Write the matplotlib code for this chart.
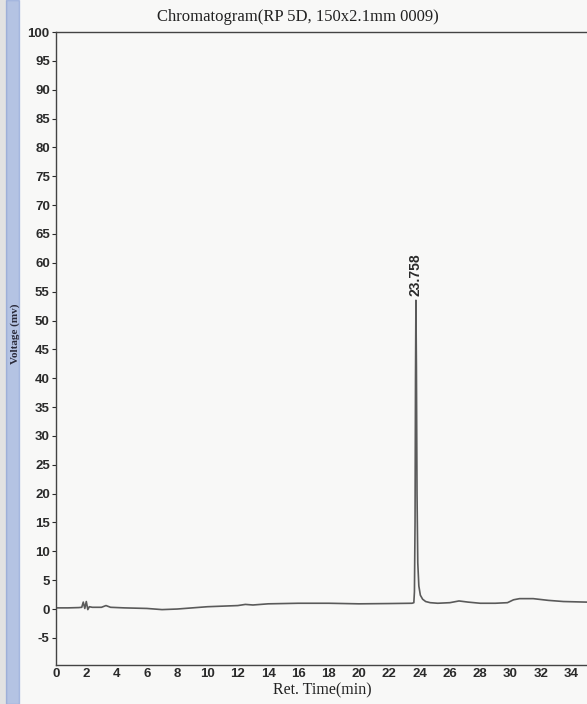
import numpy as np
import matplotlib.pyplot as plt
from matplotlib.patches import Rectangle

plt.rcParams['axes.unicode_minus'] = False

# retention time (min) and detector voltage (mV)
ret_time = [0.0, 0.8, 1.5, 1.70, 1.80, 1.90, 2.00, 2.10, 2.20, 2.40, 3.0, 3.3, 3.6,
            4.5, 6.0, 7.0, 8.0, 10.0, 12.0, 12.5, 13.0, 14.0, 16.0, 18.0, 20.0,
            22.0, 23.5, 23.62, 23.66, 23.70, 23.73, 23.758, 23.79, 23.83, 23.88,
            23.95, 24.05, 24.2, 24.4, 24.7, 25.2, 26.0, 26.6, 27.2, 28.0, 29.0,
            29.8, 30.2, 30.6, 31.5, 32.5, 33.5, 35.0]
voltage = [0.2, 0.2, 0.25, 0.3, 1.2, 0.1, 1.3, -0.1, 0.4, 0.3, 0.3, 0.6, 0.3,
           0.2, 0.1, -0.1, 0.0, 0.4, 0.6, 0.8, 0.7, 0.9, 1.0, 1.0, 0.9,
           0.95, 1.0, 1.1, 3.0, 15.0, 40.0, 53.5, 42.0, 20.0, 8.0,
           4.0, 2.4, 1.7, 1.3, 1.1, 1.0, 1.1, 1.4, 1.2, 1.0, 1.0,
           1.1, 1.6, 1.8, 1.8, 1.5, 1.3, 1.2]

peak_time = 23.758
peak_height = 53.5

y_ticks = list(range(-5, 101, 5))
x_ticks = list(range(0, 35, 2))

fig = plt.figure(figsize=(5.87, 7.04), dpi=100, facecolor='#f8f8f7')

# scanner edge along the left margin
fig.patches.append(Rectangle((0, 0), 0.01, 1, transform=fig.transFigure,
                             color='#e2e2e2', zorder=0))
fig.patches.append(Rectangle((0.01, 0), 0.022, 1, transform=fig.transFigure,
                             color='#7d98d4', alpha=0.55, zorder=0))

ax = fig.add_axes([56/587, 39/704, 531/587, 633/704])
ax.set_facecolor('none')

ax.plot(ret_time, voltage, color='#5a5a5a', lw=1.2)
ax.text(peak_time, peak_height + 0.8, '23.758', rotation=90, ha='center',
        va='bottom', fontsize=10, color='#2a2a2a', family='Liberation Sans',
        fontweight='bold')

ax.set_xlim(0, 35.05)
ax.set_ylim(-9.7, 100)
ax.set_xticks(x_ticks)
ax.set_yticks(y_ticks)
ax.tick_params(axis='both', labelsize=9.5, colors='#2a2a2a', length=3,
               width=0.8, pad=1.5)
ax.tick_params(axis='x', length=0, pad=2)
for lbl in ax.get_xticklabels() + ax.get_yticklabels():
    lbl.set_family('Liberation Sans')
    lbl.set_fontweight('bold')

for side in ['left', 'bottom', 'top']:
    ax.spines[side].set_color('#444444')
    ax.spines[side].set_linewidth(1.0)
ax.spines['right'].set_visible(False)

fig.text(298/587, 1 - 17/704, 'Chromatogram(RP 5D, 150x2.1mm 0009)',
         ha='center', va='center', fontsize=12, family='Liberation Serif',
         color='#222222')
fig.text(322/587, 1 - 690/704, 'Ret. Time(min)', ha='center', va='center',
         fontsize=11.5, family='Liberation Serif', color='#222222')
fig.text(15/587, 1 - 334/704, 'Voltage (mv)', ha='center', va='center',
         rotation=90, fontsize=8, family='Liberation Serif',
         fontweight='bold', color='#2a2a3a')

fig.savefig('out.png', dpi=100, facecolor=fig.get_facecolor())
